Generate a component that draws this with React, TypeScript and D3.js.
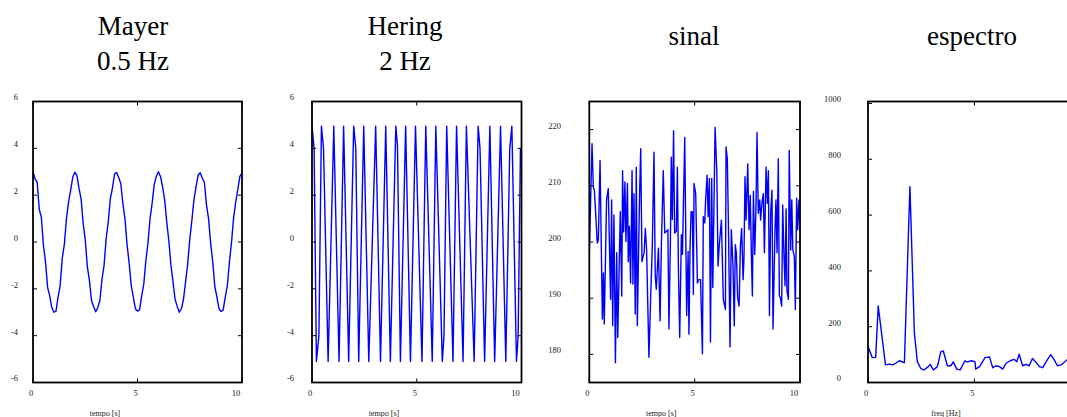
import React from 'react';
import * as d3 from 'd3';

// ---------- data ----------
const mayerStep = 0.1; // sampling interval [s]
const mayerValues = [
  3.0, 2.7, 2.55, 1.4, 1.05, -0.15, -0.85, -1.95, -2.3, -2.8, -3.0, -2.95, -2.35, -1.85, -0.7, -0.1, 1.0, 1.7, 2.2, 2.75,
  2.98, 2.85, 2.3, 1.85, 0.8, 0.1, -1.05, -1.65, -2.5, -2.75, -2.98, -2.8, -2.5, -1.6, -1.0, 0.15, 0.85, 1.85, 2.3, 2.9,
  2.97, 2.75, 2.5, 1.65, 1.0, -0.1, -0.9, -1.85, -2.35, -2.85, -2.95, -2.9, -2.3, -1.8, -0.8, -0.05, 1.0, 1.65, 2.45, 2.8,
  3.0, 2.8, 2.35, 1.8, 0.85, 0.05, -1.0, -1.7, -2.45, -2.75, -3.0, -2.85, -2.45, -1.7, -0.95, 0.1, 0.9, 1.8, 2.35, 2.85,
  2.96, 2.72, 2.55, 1.6, 1.0, -0.05, -0.85, -1.9, -2.35, -2.85, -2.97, -2.9, -2.35, -1.85, -0.85, 0.0, 1.05, 1.7, 2.25, 2.8,
  2.95,
];

const heringT = [
  0.0, 0.1, 0.21, 0.33, 0.45, 0.55, 0.77, 1.04, 1.29, 1.51, 1.75, 1.99, 2.09, 2.23, 2.47, 2.71, 3.04, 3.27, 3.52, 3.74,
  4.0, 4.08, 4.22, 4.47, 4.7, 4.94, 5.25, 5.43, 5.74, 5.91, 6.22, 6.3, 6.43, 6.73, 6.9, 7.21, 7.37, 7.74, 7.93, 8.02,
  8.24, 8.49, 8.72, 9.0, 9.25, 9.44, 9.54, 9.76, 9.84, 9.95,
];
const heringV = [
  4.95, 4.0, -5.1, -4.0, 4.95, 4.0, -5.1, 4.95, -5.1, 4.95, -5.1, 4.95, 4.0, -5.1, 4.95, -5.1, 4.95, -5.1, 4.95, -5.1,
  4.95, 4.1, -5.1, 4.95, -5.1, 4.95, -5.1, 4.95, -5.1, 4.95, -5.1, -4.0, 4.95, -5.1, 4.95, -5.1, 4.95, -5.1, 4.95, 4.0,
  -5.1, 4.95, -5.1, 4.95, -5.1, 4.0, 4.95, -5.1, -4.0, 4.0,
];

const signalT = [
  0.0, 0.13, 0.19, 0.24, 0.38, 0.43, 0.51, 0.62, 0.67, 0.71, 0.82, 0.9, 1.01, 1.06, 1.11, 1.17, 1.24, 1.3, 1.35, 1.47,
  1.54, 1.58, 1.63, 1.69, 1.74, 1.81, 1.85, 1.9, 1.96, 2.03, 2.07, 2.12, 2.18, 2.23, 2.28, 2.34, 2.39, 2.44, 2.5, 2.6,
  2.66, 2.72, 2.83, 2.91, 2.99, 3.07, 3.13, 3.18, 3.28, 3.36, 3.42, 3.51, 3.58, 3.67, 3.73, 3.78, 3.85, 3.89, 3.94, 4.0,
  4.05, 4.13, 4.18, 4.23, 4.29, 4.37, 4.42, 4.53, 4.62, 4.69, 4.73, 4.78, 4.83, 4.89, 4.94, 4.97, 5.05, 5.13, 5.19, 5.28,
  5.37, 5.41, 5.48, 5.52, 5.59, 5.64, 5.7, 5.75, 5.81, 5.86, 5.97, 6.05, 6.11, 6.17, 6.27, 6.36, 6.46, 6.49, 6.55, 6.61,
  6.68, 6.74, 6.82, 6.88, 6.93, 6.98, 7.04, 7.11, 7.17, 7.23, 7.3, 7.34, 7.39, 7.44, 7.52, 7.58, 7.64, 7.69, 7.74, 7.79,
  7.85, 7.91, 7.96, 8.02, 8.09, 8.13, 8.2, 8.26, 8.31, 8.39, 8.45, 8.5, 8.55, 8.61, 8.67, 8.72, 8.81, 8.86, 8.91, 8.97,
  9.02, 9.07, 9.13, 9.18, 9.24, 9.29, 9.34, 9.38, 9.45, 9.49, 9.56, 9.61, 9.66, 9.73, 9.78, 9.84, 9.89, 9.95, 9.99,
];
const signalV = [
  197.8, 217.5, 209.8, 209.2, 199.8, 200.4, 214.5, 186.3, 194.5, 185.4, 207.5, 209.5, 189.8, 207.5, 185.1, 204.8, 178.5, 198.1, 183.0, 205.4,
  190.4, 212.7, 201.8, 210.7, 200.1, 210.4, 196.5, 202.8, 192.7, 212.7, 192.5, 208.6, 187.2, 213.3, 185.1, 198.6, 208.9, 216.6, 196.5, 198.1,
  202.4, 198.6, 179.5, 189.8, 199.2, 216.0, 193.9, 191.6, 198.9, 186.0, 199.2, 212.7, 201.6, 201.9, 202.2, 184.5, 200.4, 215.1, 204.0, 219.8,
  201.6, 201.9, 213.3, 195.1, 183.0, 201.3, 197.8, 218.6, 186.9, 198.3, 183.6, 198.6, 205.4, 205.4, 190.7, 210.4, 208.6, 192.7, 193.3, 193.3,
  180.1, 204.5, 203.4, 207.5, 211.9, 204.5, 211.3, 182.2, 211.3, 191.9, 220.4, 212.7, 195.7, 199.5, 203.9, 189.8, 188.0, 216.9, 214.8, 201.3,
  181.3, 202.2, 195.7, 185.1, 199.5, 198.1, 190.1, 188.6, 199.2, 202.4, 193.3, 196.9, 211.6, 203.9, 213.9, 202.2, 208.3, 198.1, 190.4, 209.0,
  197.8, 205.9, 219.5, 205.1, 207.5, 203.9, 207.2, 208.6, 198.1, 213.3, 206.9, 212.7, 186.9, 205.4, 209.2, 184.5, 201.6, 207.5, 198.1, 214.8,
  190.4, 190.1, 188.6, 206.6, 197.5, 192.2, 205.9, 191.3, 189.8, 216.3, 198.6, 207.5, 198.6, 197.5, 188.0, 207.8, 202.2, 207.5, 203.4,
];

const specF = [
  0.0, 0.2, 0.36, 0.48, 0.65, 0.82, 1.0, 1.16, 1.3, 1.47, 1.71, 1.97, 2.18, 2.32, 2.48, 2.63, 2.79, 2.92, 3.07, 3.26,
  3.42, 3.54, 3.73, 3.89, 4.01, 4.17, 4.33, 4.55, 4.67, 4.87, 5.03, 5.06, 5.24, 5.5, 5.71, 5.86, 6.02, 6.18, 6.33, 6.49,
  6.68, 6.87, 6.99, 7.1, 7.27, 7.43, 7.57, 7.73, 7.9, 8.06, 8.21, 8.4, 8.59, 8.76, 8.9, 9.08, 9.34, 9.4,
];
const specP = [
  130, 89, 90, 274, 170, 63, 66, 63, 69, 78, 71, 702, 176, 75, 50, 45, 54, 65, 45, 57,
  110, 113, 60, 60, 74, 48, 45, 77, 74, 78, 74, 48, 57, 89, 92, 53, 60, 57, 48, 69,
  78, 83, 74, 101, 60, 65, 60, 86, 72, 57, 53, 78, 100, 80, 60, 63, 81, 82,
];

const ticksA = [-6, -4, -2, 0, 2, 4, 6];
const ticksSignal = [180, 190, 200, 210, 220];
const ticksSpec = [0, 200, 400, 600, 800, 1000];
const xTicks = [0, 5, 10];

// ---------- rendering ----------
const SERIF = "Liberation Serif, Tinos, Nimbus Roman, Times New Roman, DejaVu Serif, serif";
const W = 1067;

type PanelProps = {
  x0: number; x1: number; y0: number; y1: number;
  xDomain: [number, number];
  yDomain: [number, number];
  yTicks: number[];
  labelRight: number;
  xs: number[]; ys: number[];
  xLabel: string;
  xLabelOffset: number;
  titles: string[];
  titleX: number;
  titleY: number[];
};

function Panel(p: PanelProps) {
  const x = d3.scaleLinear().domain(p.xDomain).range([p.x0, p.x1]);
  const y = d3.scaleLinear().domain(p.yDomain).range([p.y1, p.y0]);
  const pts: [number, number][] = p.xs.map((t, i) => [t, p.ys[i]]);
  const line = d3.line<[number, number]>().x(d => x(d[0])).y(d => y(d[1]));
  const tl = 4;
  const clipId = `clip-${Math.round(p.x0)}`;
  const txt = { fontFamily: SERIF };
  return (
    <g>
      {p.titles.map((t, i) => (
        <text key={i} x={p.titleX} y={p.titleY[i]} textAnchor="middle" style={{ ...txt, fontSize: 27 }} fill="#000">{t}</text>
      ))}
      <defs>
        <clipPath id={clipId}><rect x={p.x0} y={p.y0} width={p.x1 - p.x0} height={p.y1 - p.y0} /></clipPath>
      </defs>
      <path d={line(pts) || ''} fill="none" stroke="#0000ff" strokeWidth={1.4} strokeLinejoin="round" clipPath={`url(#${clipId})`} />
      <rect x={p.x0} y={p.y0} width={p.x1 - p.x0} height={p.y1 - p.y0} fill="none" stroke="#000" strokeWidth={1.8} />
      {p.yTicks.map(v => (
        <g key={v}>
          <line x1={p.x0} x2={p.x0 + tl} y1={y(v)} y2={y(v)} stroke="#000" strokeWidth={1} />
          <line x1={p.x1} x2={p.x1 - tl} y1={y(v)} y2={y(v)} stroke="#000" strokeWidth={1} />
          <text x={p.labelRight} y={y(v) - 3} textAnchor="end" dominantBaseline="middle" style={{ ...txt, fontSize: 8.5 }} fill="#222">{v}</text>
        </g>
      ))}
      {xTicks.filter(v => v >= p.xDomain[0] && v <= p.xDomain[1] && x(v) < W - 8).map(v => (
        <g key={v}>
          <line x1={x(v)} x2={x(v)} y1={p.y1} y2={p.y1 - tl} stroke="#000" strokeWidth={1} />
          <line x1={x(v)} x2={x(v)} y1={p.y0} y2={p.y0 + tl} stroke="#000" strokeWidth={1} />
          <text x={x(v) - (v >= 10 ? 6 : 2)} y={396} textAnchor="middle" style={{ ...txt, fontSize: 8.5 }} fill="#222">{v}</text>
        </g>
      ))}
      <text x={p.x0 + p.xLabelOffset} y={416} textAnchor="middle" style={{ ...txt, fontSize: 8 }} fill="#222">{p.xLabel}</text>
    </g>
  );
}

export default function App() {
  const mayerT = mayerValues.map((_, i) => i * mayerStep);
  const yTop = 101.5;
  const yBot = 382.5;
  return (
    <svg width={W} height={417} style={{ position: 'absolute', left: 0, top: 0, background: '#fff' }}>
      <rect x={0} y={0} width={W} height={417} fill="#fff" />
      <Panel x0={33} x1={242} y0={yTop} y1={yBot} xDomain={[0, 10]} yDomain={[-6, 6]} yTicks={ticksA}
        labelRight={18} xs={mayerT} ys={mayerValues} xLabel="tempo [s]" xLabelOffset={72}
        titles={["Mayer", "0.5 Hz"]} titleX={133} titleY={[34.5, 70]} />
      <Panel x0={312} x1={521.5} y0={yTop} y1={yBot} xDomain={[0, 10]} yDomain={[-6, 6]} yTicks={ticksA}
        labelRight={294} xs={heringT} ys={heringV} xLabel="tempo [s]" xLabelOffset={72}
        titles={["Hering", "2 Hz"]} titleX={405} titleY={[34.5, 70]} />
      <Panel x0={589.3} x1={800} y0={yTop} y1={yBot} xDomain={[0, 10]} yDomain={[175, 225]} yTicks={ticksSignal}
        labelRight={561} xs={signalT} ys={signalV} xLabel="tempo [s]" xLabelOffset={72}
        titles={["sinal"]} titleX={694} titleY={[44.5]} />
      <Panel x0={868} x1={1134} y0={yTop} y1={yBot} xDomain={[0, 12.5]} yDomain={[0, 1007]} yTicks={ticksSpec}
        labelRight={841} xs={specF} ys={specP} xLabel="freq [Hz]" xLabelOffset={78}
        titles={["espectro"]} titleX={972} titleY={[44.5]} />
    </svg>
  );
}
